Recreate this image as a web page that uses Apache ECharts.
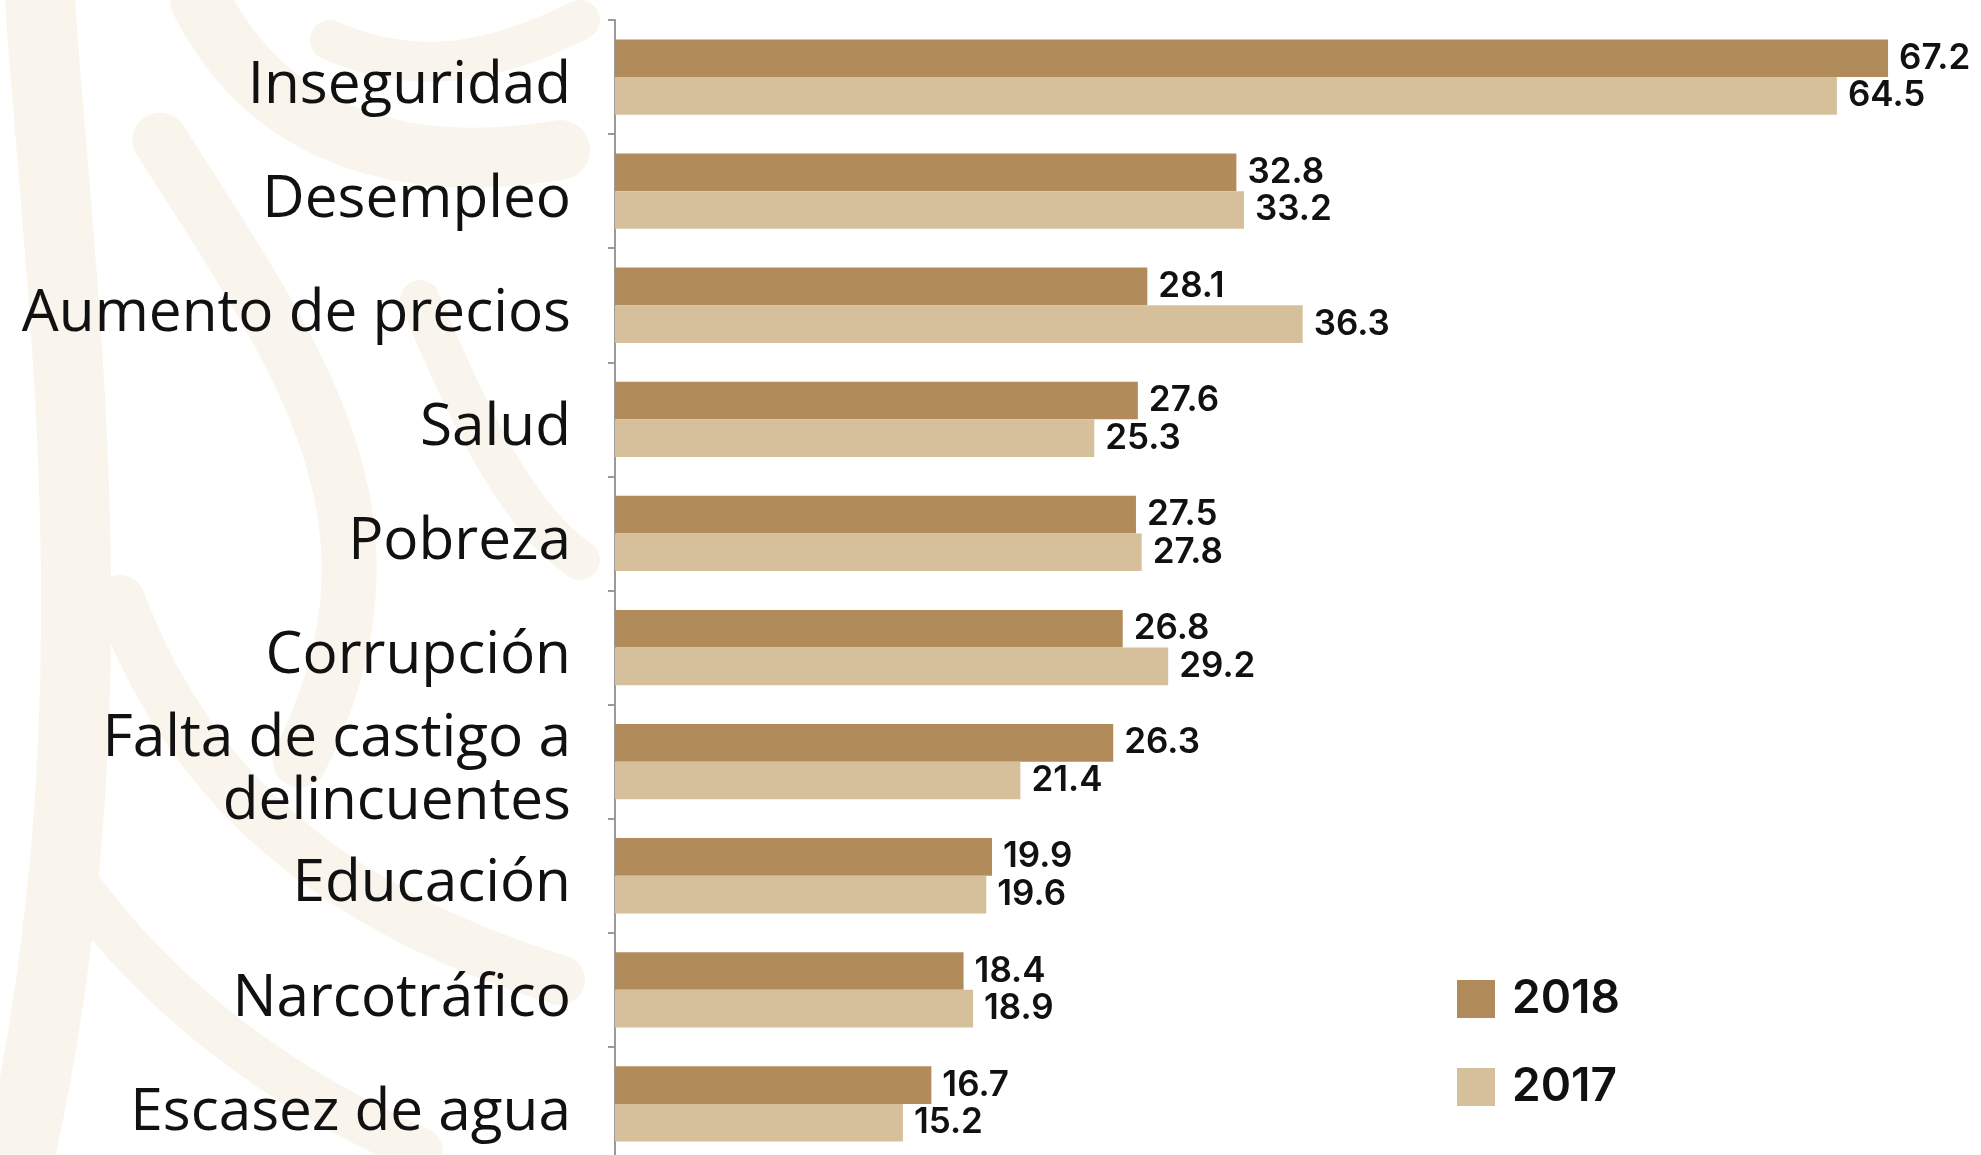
<!DOCTYPE html>
<html>
<head>
<meta charset="utf-8">
<script src="https://cdn.jsdelivr.net/npm/echarts@6/dist/echarts.min.js"></script>
<style>
  html, body { margin: 0; padding: 0; background: #fff; }
  #chart { width: 1981px; height: 1155px; }
</style>
</head>
<body>
<div id="chart"></div>
<script>
// categorias (de arriba hacia abajo)
var categorias = ['Inseguridad', 'Desempleo', 'Aumento de precios', 'Salud', 'Pobreza',
  'Corrupción', 'Falta de castigo a\ndelincuentes', 'Educación', 'Narcotráfico', 'Escasez de agua'];
var valores2018 = [67.2, 32.8, 28.1, 27.6, 27.5, 26.8, 26.3, 19.9, 18.4, 16.7];
var valores2017 = [64.5, 33.2, 36.3, 25.3, 27.8, 29.2, 21.4, 19.6, 18.9, 15.2];
var anios = ['2018', '2017'];

var color2018 = '#b28b5b';
var color2017 = '#d6c09c';
var marca = '#f9f5ed';

var chart = echarts.init(document.getElementById('chart'));

// etiquetas de valor
var etiqueta = {
  show: true,
  position: 'right',
  distance: 11,
  color: '#111',
  fontFamily: 'Inter',
  fontWeight: 600,
  fontSize: 35
};

// marca de agua del fondo (aprox.)
function trazo(p, w) {
  return {
    type: 'bezierCurve',
    silent: true,
    z: -10,
    shape: { x1: p[0], y1: p[1], cpx1: p[2], cpy1: p[3], cpx2: p[4], cpy2: p[5], x2: p[6], y2: p[7] },
    style: { fill: null, stroke: marca, lineWidth: w, lineCap: 'round' }
  };
}

var option = {
  backgroundColor: '#fff',
  animation: false,
  graphic: [
    trazo([40, 0, 60, 300, 120, 700, 20, 1155], 70),
    trazo([200, 0, 260, 120, 380, 180, 560, 150], 60),
    trazo([160, 140, 300, 360, 420, 520, 300, 760], 55),
    trazo([330, 40, 420, 80, 500, 60, 580, 20], 40),
    trazo([120, 600, 180, 760, 300, 900, 560, 980], 50),
    trazo([60, 860, 140, 980, 260, 1080, 420, 1150], 45),
    trazo([420, 300, 470, 420, 520, 520, 580, 560], 40)
  ],
  grid: {
    left: 615,
    top: 20,
    width: 1364,
    height: 1141,
    outerBoundsMode: 'none'
  },
  legend: {
    orient: 'vertical',
    left: 1452,
    top: 971,
    itemWidth: 38,
    itemHeight: 38,
    itemGap: 42,
    icon: 'rect',
    data: anios,
    textStyle: {
      fontFamily: 'Inter',
      fontWeight: 600,
      fontSize: 46,
      lineHeight: 38,
      color: '#111',
      padding: [0, 0, 0, 12]
    }
  },
  xAxis: {
    type: 'value',
    min: 0,
    max: 72,
    show: false
  },
  yAxis: {
    type: 'category',
    inverse: true,
    data: categorias,
    axisLine: { show: true, lineStyle: { color: '#9a9a9a', width: 2 } },
    axisTick: { show: true, length: 7, lineStyle: { color: '#9a9a9a', width: 2 } },
    axisLabel: {
      margin: 44,
      color: '#111',
      fontFamily: 'Open Sans',
      fontSize: 58.5,
      lineHeight: 63,
      // linea vacia arriba para bajar un poco el texto
      formatter: function(v) {
        return '{s| }\n' + v.split('\n').map(function(l) { return '{t|' + l + '}'; }).join('\n');
      },
      rich: {
        s: { fontSize: 10, lineHeight: 18 },
        t: { fontFamily: 'Open Sans', fontSize: 58.5, lineHeight: 63, color: '#111' }
      }
    }
  },
  series: [
    {
      name: anios[0],
      type: 'bar',
      data: valores2018,
      barGap: '0%',
      barCategoryGap: '34%',
      itemStyle: { color: color2018 },
      label: etiqueta
    },
    {
      name: anios[1],
      type: 'bar',
      data: valores2017,
      barGap: '0%',
      barCategoryGap: '34%',
      itemStyle: { color: color2017 },
      label: etiqueta
    }
  ]
};

chart.setOption(option);
</script>
</body>
</html>
